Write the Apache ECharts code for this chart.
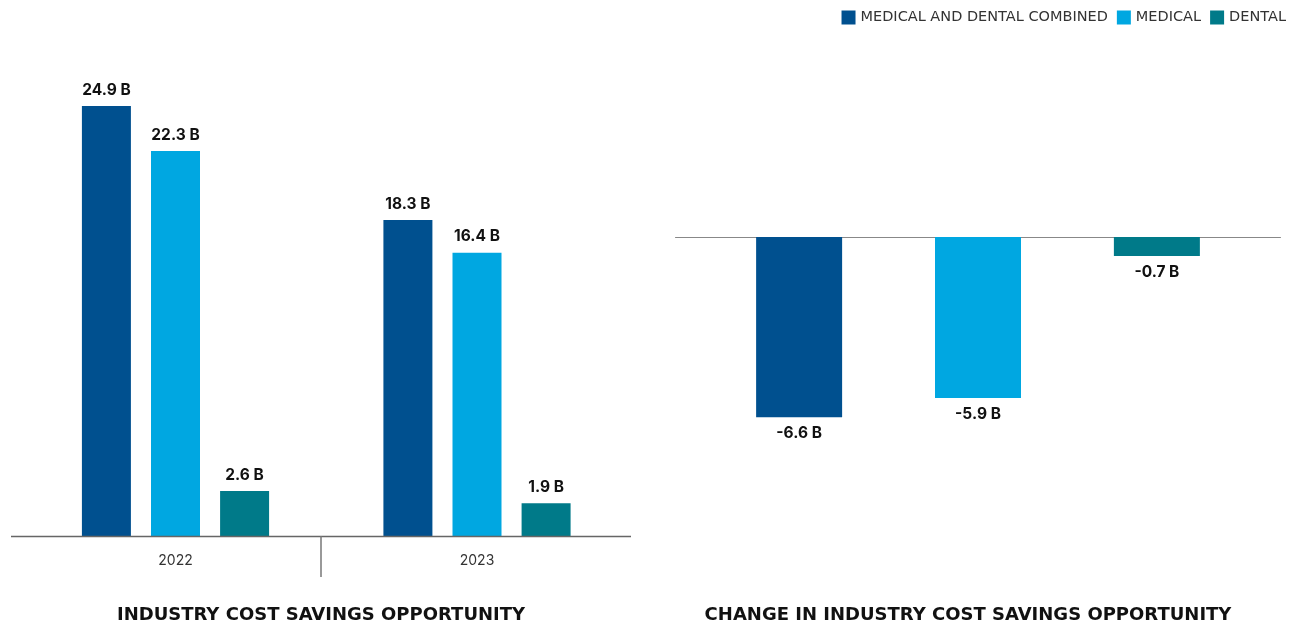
<!DOCTYPE html>
<html>
<head>
<meta charset="utf-8">
<script src="https://cdn.jsdelivr.net/npm/echarts@6/dist/echarts.min.js"></script>
<style>
  html, body { margin: 0; padding: 0; background: #fff; }
  #chart { width: 1299px; height: 629px; }
</style>
</head>
<body>
<div id="chart"></div>
<script>
// Category and series data
const years = ['2022', '2023'];
const seriesNames = ['MEDICAL AND DENTAL COMBINED', 'MEDICAL', 'DENTAL'];
const combinedValues = [24.9, 18.3];
const medicalValues = [22.3, 16.4];
const dentalValues = [2.6, 1.9];

const changeCategory = ['Change'];
const changeCombined = [-6.6];
const changeMedical = [-5.9];
const changeDental = [-0.7];

const leftTitle = 'INDUSTRY COST SAVINGS OPPORTUNITY';
const rightTitle = 'CHANGE IN INDUSTRY COST SAVINGS OPPORTUNITY';

const colors = ['#00508F', '#00A7E1', '#007A89'];
const FONT = 'Inter, "Noto Sans", sans-serif';
const WIDE_FONT = '"DejaVu Sans", Inter, sans-serif';

const fmt = p => p.value.toFixed(1) + ' B';

const labelStyle = (pos) => ({
  show: true,
  position: pos,
  distance: 8,
  formatter: fmt,
  color: '#111',
  fontWeight: 'bold',
  fontSize: 15.5,
  fontFamily: FONT
});

function leftBar(name, data, color) {
  return {
    name, type: 'bar', xAxisIndex: 0, yAxisIndex: 0,
    data, barWidth: 49, barGap: '41%',
    itemStyle: { color },
    label: labelStyle('top')
  };
}
function rightBar(name, data, color) {
  return {
    name, type: 'bar', xAxisIndex: 1, yAxisIndex: 1,
    data, barWidth: 86, barGap: '108%',
    itemStyle: { color },
    label: labelStyle('bottom')
  };
}

const chart = echarts.init(document.getElementById('chart'), null, { renderer: 'canvas' });

const LEFT_EDGE = 11;
const LEFT_END = 631;

chart.setOption({
  animation: false,
  color: colors,
  textStyle: { fontFamily: FONT },
  legend: {
    data: seriesNames,
    right: 13,
    top: 10,
    padding: 0,
    itemWidth: 14,
    itemHeight: 14,
    itemGap: 9,
    icon: 'rect',
    textStyle: { color: '#333', fontSize: 14.5, fontFamily: WIDE_FONT }
  },
  title: [
    { text: leftTitle, left: 321, top: 606, textAlign: 'center', padding: 0,
      textStyle: { fontSize: 18, fontWeight: 'bold', color: '#111', fontFamily: WIDE_FONT } },
    { text: rightTitle, left: 968, top: 606, textAlign: 'center', padding: 0,
      textStyle: { fontSize: 18, fontWeight: 'bold', color: '#111', fontFamily: WIDE_FONT } }
  ],
  grid: [
    { left: 24.75, width: 603, top: 18, bottom: 93 },
    { left: 675.5, width: 605, top: 237, height: 218.4 }
  ],
  xAxis: [
    { type: 'category', gridIndex: 0, data: years,
      axisLine: { show: false }, axisTick: { show: false },
      axisLabel: { color: '#333', fontSize: 14, margin: 18, fontFamily: FONT } },
    { type: 'category', gridIndex: 1, data: changeCategory, position: 'top',
      axisLine: { show: true, lineStyle: { color: '#888', width: 1 } },
      axisTick: { show: false }, axisLabel: { show: false } }
  ],
  yAxis: [
    { type: 'value', gridIndex: 0, min: 0, max: 30, show: false, splitLine: { show: false } },
    { type: 'value', gridIndex: 1, min: -8, max: 0, show: false, splitLine: { show: false } }
  ],
  series: [
    leftBar(seriesNames[0], combinedValues, colors[0]),
    leftBar(seriesNames[1], medicalValues, colors[1]),
    leftBar(seriesNames[2], dentalValues, colors[2]),
    rightBar(seriesNames[0], changeCombined, colors[0]),
    rightBar(seriesNames[1], changeMedical, colors[1]),
    rightBar(seriesNames[2], changeDental, colors[2])
  ]
});

// Baseline and year divider for the left panel, placed from the axis scales
const baseY = Math.round(chart.convertToPixel({ yAxisIndex: 0 }, 0));
const c0 = chart.convertToPixel({ xAxisIndex: 0 }, years[0]);
const c1 = chart.convertToPixel({ xAxisIndex: 0 }, years[1]);
const divX = Math.round((c0 + c1) / 2) - 5;

chart.setOption({
  graphic: [
    { type: 'line', z: 10,
      shape: { x1: LEFT_EDGE, y1: baseY + 0.5, x2: LEFT_END, y2: baseY + 0.5 },
      style: { stroke: '#666', lineWidth: 1.5 } },
    { type: 'line', z: 10,
      shape: { x1: divX, y1: baseY, x2: divX, y2: baseY + 41 },
      style: { stroke: '#777', lineWidth: 1.5 } }
  ]
});
</script>
</body>
</html>
